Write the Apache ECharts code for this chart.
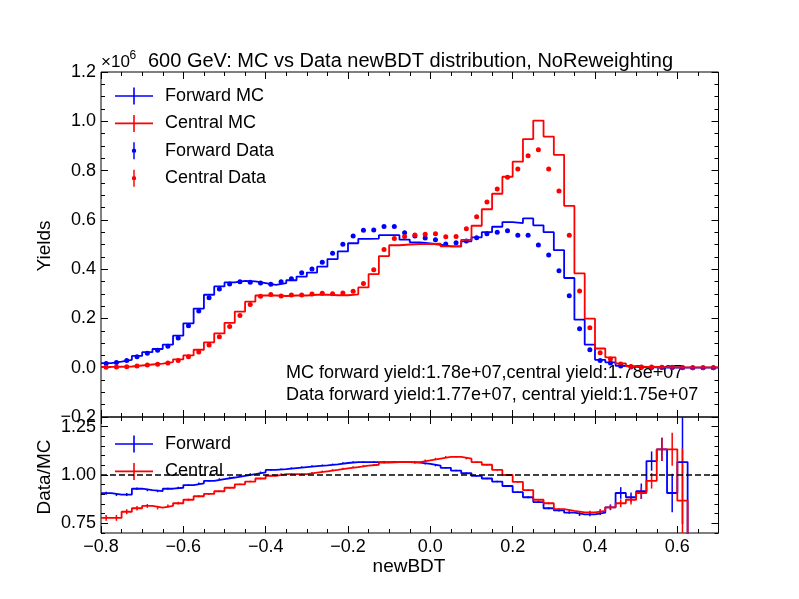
<!DOCTYPE html>
<html>
<head>
<meta charset="utf-8">
<script src="https://cdn.jsdelivr.net/npm/echarts@6/dist/echarts.min.js"></script>
<style>
html, body { margin: 0; padding: 0; background: #fff; }
#main { width: 799px; height: 599px; }
</style>
</head>
<body>
<div id="main"></div>
<script>
// newBDT binning: 60 bins of 0.025 from -0.8 to 0.7
var binLo = -0.8, binW = 0.025, nBins = 60;

// yields, in units of 1e6
var fwdMC = [0.019, 0.025, 0.032, 0.048, 0.063, 0.076, 0.094, 0.130, 0.180, 0.240,
             0.296, 0.330, 0.346, 0.352, 0.350, 0.343, 0.336, 0.343, 0.355, 0.370,
             0.386, 0.410, 0.441, 0.472, 0.505, 0.523, 0.524, 0.538, 0.538, 0.520,
             0.509, 0.504, 0.499, 0.492, 0.492, 0.513, 0.529, 0.550, 0.572, 0.591,
             0.587, 0.606, 0.578, 0.550, 0.477, 0.364, 0.195, 0.094, 0.032, 0.022,
             0.008, 0.003, 0.002, 0.001, 0.0008, 0.0005, 0.0003, 0.0001, 0.0001, 0.0001];
var cenMC = [0.003, 0.004, 0.005, 0.009, 0.013, 0.017, 0.023, 0.034, 0.050, 0.073,
             0.103, 0.139, 0.182, 0.228, 0.268, 0.293, 0.293, 0.291, 0.293, 0.293,
             0.296, 0.297, 0.294, 0.294, 0.298, 0.326, 0.380, 0.453, 0.497, 0.500,
             0.502, 0.502, 0.503, 0.492, 0.492, 0.519, 0.576, 0.643, 0.706, 0.775,
             0.836, 0.928, 1.003, 0.938, 0.864, 0.657, 0.383, 0.199, 0.078, 0.042,
             0.018, 0.006, 0.003, 0.003, 0.002, 0.0015, 0.001, 0.001, 0.001, 0.001];
var fwdData = [0.017, 0.021, 0.029, 0.045, 0.059, 0.071, 0.087, 0.121, 0.170, 0.230,
               0.284, 0.319, 0.340, 0.349, 0.347, 0.344, 0.339, 0.349, 0.361, 0.385,
               0.401, 0.428, 0.465, 0.501, 0.534, 0.558, 0.559, 0.573, 0.573, 0.548,
               0.535, 0.526, 0.519, 0.502, 0.507, 0.514, 0.527, 0.544, 0.550, 0.556,
               0.538, 0.538, 0.498, 0.457, 0.393, 0.292, 0.158, 0.073, 0.029, 0.019,
               0.007, 0.003, 0.002, 0.001, 0.001, 0.0005, 0.0003, 0, 0, 0];
var cenData = [0.002, 0.003, 0.004, 0.007, 0.011, 0.014, 0.019, 0.029, 0.044, 0.064,
               0.092, 0.126, 0.167, 0.212, 0.257, 0.290, 0.297, 0.291, 0.295, 0.295,
               0.299, 0.302, 0.300, 0.303, 0.310, 0.342, 0.398, 0.480, 0.524, 0.532,
               0.539, 0.542, 0.544, 0.531, 0.532, 0.564, 0.613, 0.672, 0.725, 0.773,
               0.806, 0.860, 0.884, 0.806, 0.717, 0.538, 0.311, 0.162, 0.061, 0.035,
               0.015, 0.005, 0.003, 0.003, 0.002, 0.0017, 0.0009, 0, 0, 0];

// Data/MC
var fwdRatio = [0.906, 0.899, 0.899, 0.929, 0.922, 0.917, 0.929, 0.934, 0.948, 0.957,
                0.970, 0.979, 0.987, 0.996, 1.005, 1.014, 1.026, 1.030, 1.036, 1.041,
                1.046, 1.050, 1.055, 1.062, 1.067, 1.067, 1.067, 1.067, 1.067, 1.067,
                1.064, 1.058, 1.049, 1.037, 1.023, 1.009, 0.995, 0.982, 0.966, 0.943,
                0.911, 0.885, 0.860, 0.828, 0.817, 0.805, 0.796, 0.796, 0.805, 0.833,
                0.907, 0.885, 0.916, 1.072, 1.133, 0.907, 1.067, 0, 0, 0];
var fwdRatioErr = [0.008, 0.008, 0.008, 0.006, 0.006, 0.006, 0.005, 0.005, 0.004, 0.004,
                   0.004, 0.004, 0.004, 0.004, 0.004, 0.004, 0.004, 0.004, 0.004, 0.004,
                   0.004, 0.004, 0.004, 0.004, 0.004, 0.004, 0.004, 0.004, 0.004, 0.004,
                   0.004, 0.004, 0.004, 0.004, 0.004, 0.004, 0.004, 0.004, 0.004, 0.004,
                   0.004, 0.005, 0.005, 0.005, 0.006, 0.006, 0.008, 0.010, 0.012, 0.015,
                   0.030, 0.025, 0.040, 0.050, 0.060, 0.100, 0.320, 0, 0, 0];
var cenRatio = [0.778, 0.778, 0.810, 0.828, 0.840, 0.831, 0.840, 0.854, 0.872, 0.890,
                0.902, 0.916, 0.934, 0.952, 0.966, 0.982, 0.996, 1.005, 1.005, 1.005,
                1.012, 1.019, 1.026, 1.034, 1.041, 1.048, 1.053, 1.064, 1.067, 1.067,
                1.067, 1.076, 1.085, 1.094, 1.094, 1.085, 1.067, 1.053, 1.026, 1.000,
                0.964, 0.922, 0.872, 0.854, 0.823, 0.814, 0.807, 0.807, 0.814, 0.833,
                0.854, 0.872, 0.907, 0.970, 1.133, 1.133, 0.867, 0, 0, 0];
var cenRatioErr = [0.015, 0.015, 0.013, 0.012, 0.010, 0.009, 0.008, 0.007, 0.006, 0.005,
                   0.005, 0.004, 0.004, 0.004, 0.004, 0.004, 0.004, 0.004, 0.004, 0.004,
                   0.004, 0.004, 0.004, 0.004, 0.004, 0.004, 0.004, 0.004, 0.004, 0.004,
                   0.004, 0.004, 0.004, 0.004, 0.004, 0.004, 0.004, 0.004, 0.004, 0.004,
                   0.004, 0.004, 0.004, 0.005, 0.005, 0.006, 0.007, 0.008, 0.010, 0.012,
                   0.020, 0.025, 0.030, 0.040, 0.060, 0.085, 0.270, 0, 0, 0];

var xTicks = [-0.8, -0.6, -0.4, -0.2, 0, 0.2, 0.4, 0.6];
var yTicks = [-0.2, 0, 0.2, 0.4, 0.6, 0.8, 1.0, 1.2];
var rTicks = [0.75, 1.0, 1.25];

var blue = '#0000ff', red = '#ff0000';
var font = "'Liberation Sans', Arial, sans-serif";

function minorList(from, to, step, every) {
    var out = [];
    for (var k = Math.round(from / step); k <= Math.round(to / step); k++) {
        if (k % every !== 0) out.push(Math.round(k * step * 1000) / 1000);
    }
    return out;
}
function fmt(d) {
    return function (v) { return (Math.abs(v) < 1e-9 ? 0 : v).toFixed(d).replace('-', '\u2212'); };
}

// a major axis (labels + long ticks) and a minor one (short ticks) on the same side
function axisPair(gridIndex, position, min, max, majors, minors, labelFmt) {
    var base = {
        type: 'value', gridIndex: gridIndex, position: position, min: min, max: max,
        axisLine: {show: false, onZero: false}, splitLine: {show: false}
    };
    var major = Object.assign({}, base, {
        axisTick: {show: true, inside: true, length: 7, customValues: majors, lineStyle: {color: '#000', width: 1}},
        axisLabel: labelFmt ? {
            show: true, customValues: majors, formatter: labelFmt, color: '#000',
            fontSize: 18, fontFamily: font, margin: 5
        } : {show: false}
    });
    var minor = Object.assign({}, base, {
        axisTick: {show: true, inside: true, length: 4, customValues: minors, lineStyle: {color: '#000', width: 1}},
        axisLabel: {show: false}
    });
    return [major, minor];
}

var xMinor = minorList(-0.8, 0.7, 0.05, 4);
var yMinor = minorList(-0.2, 1.2, 0.05, 4);
var rMinor = minorList(0.7, 1.3, 0.05, 5);

var xAxes = [].concat(
    axisPair(0, 'bottom', -0.8, 0.7, xTicks, xMinor, null),
    axisPair(0, 'top', -0.8, 0.7, xTicks, xMinor, null),
    axisPair(1, 'bottom', -0.8, 0.7, xTicks, xMinor, fmt(1)),
    axisPair(1, 'top', -0.8, 0.7, xTicks, xMinor, null)
);
var yAxes = [].concat(
    axisPair(0, 'left', -0.2, 1.2, yTicks, yMinor, fmt(1)),
    axisPair(0, 'right', -0.2, 1.2, yTicks, yMinor, null),
    axisPair(1, 'left', 0.7, 1.3, rTicks, rMinor, fmt(2)),
    axisPair(1, 'right', 0.7, 1.3, rTicks, rMinor, null)
);

function stepData(vals) {
    var out = [];
    for (var i = 0; i < nBins; i++) out.push([binLo + i * binW, vals[i]]);
    out.push([binLo + nBins * binW, vals[nBins - 1]]);
    return out;
}
function pointData(vals) {
    var out = [];
    for (var i = 0; i < nBins; i++) out.push([binLo + (i + 0.5) * binW, vals[i]]);
    return out;
}
function errData(vals, errs) {
    var out = [];
    for (var i = 0; i < nBins; i++) {
        if (errs[i] > 0) out.push([binLo + (i + 0.5) * binW, vals[i], errs[i]]);
    }
    return out;
}
function errBars(color) {
    return function (params, api) {
        var x = api.value(0), v = api.value(1), e = api.value(2);
        var p1 = api.coord([x, v - e]);
        var p2 = api.coord([x, v + e]);
        return {
            type: 'line',
            shape: {x1: p1[0], y1: p1[1], x2: p2[0], y2: p2[1]},
            style: {stroke: color, lineWidth: 1.5}
        };
    };
}

var mcIcon = 'path://M0,7.7H38V9.3H0Z M18.2,0H19.8V17H18.2Z';
var dataIcon = 'path://M18.4,2H19.6V16H18.4Z M19,7.2A1.8,1.8 0 1 1 19,10.8A1.8,1.8 0 1 1 19,7.2Z';

var dom = document.getElementById('main');
var myChart = echarts.init(dom);
var option = {
    animation: false,
    backgroundColor: '#fff',
    grid: [
        {left: 101, top: 72, width: 617.5, height: 345, show: true, borderColor: '#000', borderWidth: 1, backgroundColor: 'transparent'},
        {left: 101, top: 417, width: 617.5, height: 116, show: true, borderColor: '#000', borderWidth: 1, backgroundColor: 'transparent'}
    ],
    xAxis: xAxes,
    yAxis: yAxes,
    legend: [
        {
            data: [
                {name: 'Forward MC', icon: mcIcon},
                {name: 'Central MC', icon: mcIcon},
                {name: 'Forward Data', icon: dataIcon},
                {name: 'Central Data', icon: dataIcon}
            ],
            orient: 'vertical', left: 115, top: 87, padding: 0, itemWidth: 38, itemHeight: 17, itemGap: 9.4,
            selectedMode: false,
            textStyle: {fontSize: 18, color: '#000', fontFamily: font, padding: [0, 0, 0, 7]}
        },
        {
            data: [
                {name: 'Forward', icon: mcIcon},
                {name: 'Central', icon: mcIcon}
            ],
            orient: 'vertical', left: 115, top: 435, padding: 0, itemWidth: 38, itemHeight: 17, itemGap: 9.4,
            selectedMode: false,
            textStyle: {fontSize: 18, color: '#000', fontFamily: font, padding: [0, 0, 0, 7]}
        }
    ],
    graphic: [
        {type: 'text', x: 101, y: 62, style: {text: '\u00d710', fontSize: 17, fontFamily: font, fill: '#000', align: 'left', verticalAlign: 'middle'}},
        {type: 'text', x: 129.5, y: 56, style: {text: '6', fontSize: 12, fontFamily: font, fill: '#000', align: 'left', verticalAlign: 'middle'}},
        {type: 'text', x: 148, y: 61, style: {text: '600 GeV: MC vs Data newBDT distribution, NoReweighting', fontSize: 20, fontFamily: font, fill: '#000', align: 'left', verticalAlign: 'middle'}},
        {type: 'text', x: 286, y: 373, style: {text: 'MC forward yield:1.78e+07,central yield:1.78e+07', fontSize: 18, fontFamily: font, fill: '#000', align: 'left', verticalAlign: 'middle'}},
        {type: 'text', x: 286, y: 395, style: {text: 'Data forward yield:1.77e+07, central yield:1.75e+07', fontSize: 18, fontFamily: font, fill: '#000', align: 'left', verticalAlign: 'middle'}},
        {type: 'text', x: 45, y: 246, rotation: Math.PI / 2, style: {text: 'Yields', fontSize: 19, fontFamily: font, fill: '#000', align: 'center', verticalAlign: 'middle'}},
        {type: 'text', x: 45, y: 477, rotation: Math.PI / 2, style: {text: 'Data/MC', fontSize: 19, fontFamily: font, fill: '#000', align: 'center', verticalAlign: 'middle'}},
        {type: 'text', x: 409, y: 567, style: {text: 'newBDT', fontSize: 19, fontFamily: font, fill: '#000', align: 'center', verticalAlign: 'middle'}}
    ],
    series: [
        {
            name: 'Forward MC', type: 'line', xAxisIndex: 0, yAxisIndex: 0, step: 'end',
            data: stepData(fwdMC), symbol: 'none', showSymbol: false,
            lineStyle: {color: blue, width: 1.8}, itemStyle: {color: blue}
        },
        {
            name: 'Central MC', type: 'line', xAxisIndex: 0, yAxisIndex: 0, step: 'end',
            data: stepData(cenMC), symbol: 'none', showSymbol: false,
            lineStyle: {color: red, width: 1.8}, itemStyle: {color: red}
        },
        {
            name: 'Forward Data', type: 'scatter', xAxisIndex: 0, yAxisIndex: 0,
            data: pointData(fwdData), symbolSize: 5, itemStyle: {color: blue, opacity: 1}
        },
        {
            name: 'Central Data', type: 'scatter', xAxisIndex: 0, yAxisIndex: 0,
            data: pointData(cenData), symbolSize: 5, itemStyle: {color: red, opacity: 1}
        },
        {
            name: 'Forward', type: 'line', xAxisIndex: 4, yAxisIndex: 4, step: 'end',
            data: stepData(fwdRatio), symbol: 'none', showSymbol: false,
            lineStyle: {color: blue, width: 1.8}, itemStyle: {color: blue},
            markLine: {
                silent: true, symbol: ['none', 'none'], label: {show: false},
                lineStyle: {type: [6, 3], color: '#000', width: 1.5},
                data: [{yAxis: 1}]
            }
        },
        {
            name: 'Central', type: 'line', xAxisIndex: 4, yAxisIndex: 4, step: 'end',
            data: stepData(cenRatio), symbol: 'none', showSymbol: false,
            lineStyle: {color: red, width: 1.8}, itemStyle: {color: red}
        },
        {
            type: 'custom', xAxisIndex: 4, yAxisIndex: 4, clip: true, silent: true,
            data: errData(fwdRatio, fwdRatioErr), renderItem: errBars(blue)
        },
        {
            type: 'custom', xAxisIndex: 4, yAxisIndex: 4, clip: true, silent: true,
            data: errData(cenRatio, cenRatioErr), renderItem: errBars(red)
        }
    ]
};
if (option && typeof option === "object") {
    myChart.setOption(option, true);
}
</script>
</body>
</html>
